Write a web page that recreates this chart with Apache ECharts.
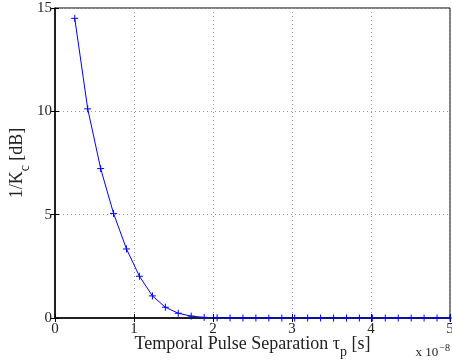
<!DOCTYPE html>
<html>
<head>
<meta charset="utf-8">
<script src="https://cdn.jsdelivr.net/npm/echarts@6/dist/echarts.min.js"></script>
<style>html,body{margin:0;padding:0;background:#fff}#c{width:452px;height:364px}</style>
</head>
<body>
<div id="c"></div>
<script>
var tauP = [0.25, 0.414, 0.578, 0.741, 0.905, 1.069, 1.233, 1.397, 1.560, 1.724,
  1.888, 2.052, 2.216, 2.379, 2.543, 2.707, 2.871, 3.034, 3.198, 3.362,
  3.526, 3.690, 3.853, 4.017, 4.181, 4.345, 4.509, 4.672, 4.836, 5.0];
var invKc = [14.5, 10.12, 7.23, 5.06, 3.34, 2.02, 1.07, 0.52, 0.23, 0.09,
  0.03, 0.01, 0.003, 0.001, 0, 0, 0, 0, 0, 0,
  0, 0, 0, 0, 0, 0, 0, 0, 0, 0];
var xTicks = [0, 1, 2, 3, 4, 5];
var yTicks = [0, 5, 10, 15];

var FONT = 'Liberation Serif';
var TXT = '#222';
var chart = echarts.init(document.getElementById('c'), null, {renderer: 'canvas'});
var plus = 'path://M0,5L10,5M5,0L5,10';
chart.setOption({
  animation: false,
  backgroundColor: '#fff',
  grid: {left: 55, right: 2, top: 8, bottom: 46, containLabel: false, outerBoundsMode: 'none',
    show: true, borderColor: '#000', borderWidth: 1, backgroundColor: 'transparent'},
  xAxis: [{
    type: 'value', min: 0, max: 5, interval: 1,
    axisLine: {show: true, onZero: false, lineStyle: {color: '#000', width: 1.5}},
    axisTick: {show: true, inside: true, length: 4, lineStyle: {color: '#000'}},
    axisLabel: {color: TXT, fontFamily: FONT, fontSize: 15, margin: 4,
      formatter: function (v) { return xTicks.indexOf(v) >= 0 ? String(v) : ''; }},
    splitLine: {show: true, lineStyle: {color: '#999', type: [1, 3], width: 1}},
    name: '{a|Temporal Pulse Separation τ}{s|p}{a| [s]}',
    nameLocation: 'middle', nameGap: 16, nameMoveOverlap: false,
    nameTextStyle: {rich: {
      a: {fontFamily: FONT, fontSize: 18, color: TXT, lineHeight: 20},
      s: {fontFamily: FONT, fontSize: 14, color: TXT, padding: [16, 0, 0, 0], lineHeight: 20}
    }}
  }, {
    type: 'value', min: 0, max: 5, interval: 1, position: 'top',
    axisLine: {show: false},
    axisTick: {show: true, inside: true, length: 4, lineStyle: {color: '#000'}},
    axisLabel: {show: false}, splitLine: {show: false}
  }],
  yAxis: [{
    type: 'value', min: 0, max: 15, interval: 5,
    axisLine: {show: true, onZero: false, lineStyle: {color: '#000', width: 1.5}},
    axisTick: {show: true, inside: true, length: 4, lineStyle: {color: '#000'}},
    axisLabel: {color: TXT, fontFamily: FONT, fontSize: 15, margin: 3,
      formatter: function (v) { return yTicks.indexOf(v) >= 0 ? String(v) : ''; }},
    splitLine: {show: true, lineStyle: {color: '#999', type: [1, 3], width: 1}},
    name: '{a|1/K}{s|c}{a| [dB]}',
    nameLocation: 'middle', nameGap: 28, nameRotate: 90, nameMoveOverlap: false,
    nameTextStyle: {rich: {
      a: {fontFamily: FONT, fontSize: 18, color: TXT, lineHeight: 20},
      s: {fontFamily: FONT, fontSize: 14, color: TXT, padding: [16, 0, 0, 0], lineHeight: 20}
    }}
  }, {
    type: 'value', min: 0, max: 15, interval: 5, position: 'right',
    axisLine: {show: false},
    axisTick: {show: true, inside: true, length: 4, lineStyle: {color: '#000'}},
    axisLabel: {show: false}, splitLine: {show: false}
  }],
  graphic: [{
    type: 'text', right: 2, top: 343,
    style: {
      text: '{a|x 10}{s|−8}',
      rich: {
        a: {fontFamily: FONT, fontSize: 13, fill: TXT, lineHeight: 16},
        s: {fontFamily: FONT, fontSize: 10, fill: TXT, padding: [0, 0, 10, 1], lineHeight: 16}
      }
    }
  }],
  series: [{
    type: 'line',
    data: tauP.map(function (x, i) { return [x, invKc[i]]; }),
    lineStyle: {color: '#0000ff', width: 1},
    itemStyle: {color: '#0000ff', borderColor: '#0000ff', borderWidth: 1},
    symbol: plus, symbolSize: 7, showSymbol: true,
    clip: false
  }]
});
</script>
</body>
</html>
